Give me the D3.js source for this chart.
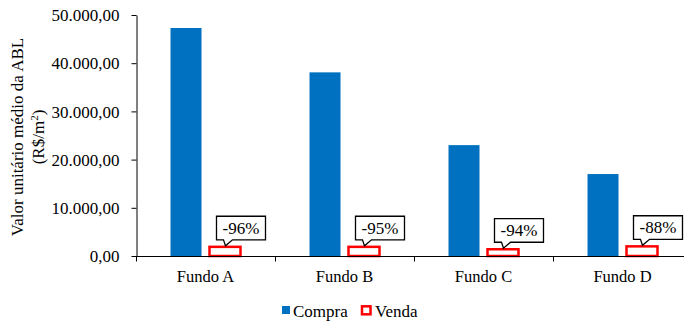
<!DOCTYPE html>
<html lang="pt-BR">
<head>
<meta charset="utf-8">
<script src="https://cdn.jsdelivr.net/npm/d3@7"></script>
</head>
<body style="margin:0;background:#fff">
<svg id="grafico" width="684" height="321" style="font-family: serif"></svg>
<script>
// valores do grafico
var fundos = ["Fundo A", "Fundo B", "Fundo C", "Fundo D"];
var series = ["Compra", "Venda"];
var compra = [47300, 38100, 23000, 17000];
var venda = [1900, 1900, 1400, 2000];
var variacao = ["-96%", "-95%", "-94%", "-88%"];
var yTicks = [0, 10000, 20000, 30000, 40000, 50000];

var cores = { Compra: "#0070C0", Venda: "#FF0000" };
var fonte = "serif";

var svg = d3.select("#grafico");

var x0 = d3.scaleBand().domain(fundos).range([136, 692]);
var x1 = d3.scaleBand().domain(series).range([0, x0.bandwidth()])
  .paddingInner(0.205).paddingOuter(0.885);
var y = d3.scaleLinear().domain([0, 50000]).range([256, 15]);

var fmt = function(v){
  return d3.format(",.2f")(v).replace(/,/g, "#").replace(".", ",").replace(/#/g, ".");
};

// eixo y
var gy = svg.append("g")
  .attr("transform", "translate(136.5,0)")
  .call(d3.axisLeft(y).tickValues(yTicks).tickFormat(fmt).tickSize(5).tickSizeOuter(0).tickPadding(12));
gy.attr("font-family", fonte).attr("font-size", 17);
gy.selectAll("text").attr("fill", "#000").attr("dy", "0.34em");
gy.selectAll("line, path").attr("stroke", "#000");

// titulo do eixo y
var titulo = svg.append("text")
  .attr("transform", "translate(23,137) rotate(-90)")
  .attr("text-anchor", "middle")
  .attr("font-family", fonte)
  .attr("font-size", 17);
titulo.append("tspan").attr("x", 0).attr("dy", 0).text("Valor unitário médio da ABL");
titulo.append("tspan").attr("x", 0).attr("dy", 21).text("(R$/m");
titulo.append("tspan").attr("dy", -6).attr("font-size", 11).text("2");
titulo.append("tspan").attr("dy", 6).text(")");

// barras
var grupos = svg.append("g").selectAll("g")
  .data(fundos).enter().append("g")
  .attr("transform", function(d){ return "translate(" + x0(d) + ",0)"; });

grupos.append("rect")
  .attr("x", x1("Compra"))
  .attr("y", function(d, i){ return y(compra[i]); })
  .attr("width", x1.bandwidth())
  .attr("height", function(d, i){ return y(0) - y(compra[i]); })
  .attr("fill", cores.Compra);

grupos.append("rect")
  .attr("x", x1("Venda"))
  .attr("y", function(d, i){ return y(venda[i]); })
  .attr("width", x1.bandwidth())
  .attr("height", function(d, i){ return y(0) - y(venda[i]); })
  .attr("fill", "#fff")
  .attr("stroke", cores.Venda)
  .attr("stroke-width", 2.5);

// eixo x
var gx = svg.append("g").attr("transform", "translate(0,256.5)");
gx.append("line").attr("x1", x0.range()[0]).attr("x2", x0.range()[1]).attr("stroke", "#000");
var limites = fundos.map(function(d){ return x0(d); }).concat([x0.range()[1]]);
gx.selectAll(".bt").data(limites).enter().append("line")
  .attr("x1", function(d){ return Math.round(d) + 0.5; })
  .attr("x2", function(d){ return Math.round(d) + 0.5; })
  .attr("y1", 0).attr("y2", 5)
  .attr("stroke", "#000");
gx.selectAll(".xl").data(fundos).enter().append("text")
  .attr("x", function(d){ return x0(d) + x0.bandwidth() / 2; })
  .attr("y", 25)
  .attr("text-anchor", "middle")
  .attr("font-family", fonte)
  .attr("font-size", 16.5)
  .text(function(d){ return d; });

// rotulos de variacao
var boxW = 49, boxH = 23.6;
var rotulos = grupos.append("g")
  .attr("transform", function(d, i){
    return "translate(" + (x1("Venda") + 7) + "," + (y(venda[i]) - 7 - boxH) + ")";
  });
rotulos.append("path")
  .attr("d", "M0,0 H" + boxW + " V" + boxH + " H16 L9," + (boxH + 6) + " L7," + boxH + " H0 Z")
  .attr("fill", "#fff")
  .attr("stroke", "#000")
  .attr("stroke-width", 1.3);
rotulos.append("text")
  .attr("x", boxW / 2)
  .attr("y", boxH - 6)
  .attr("text-anchor", "middle")
  .attr("font-family", fonte)
  .attr("font-size", 17)
  .text(function(d, i){ return variacao[i]; });

// legenda
var legenda = svg.append("g");
legenda.append("rect").attr("x", 282).attr("y", 306).attr("width", 8).attr("height", 8).attr("fill", cores.Compra);
legenda.append("rect").attr("x", 362).attr("y", 306.3).attr("width", 8.5).attr("height", 8)
  .attr("fill", "#fff").attr("stroke", cores.Venda).attr("stroke-width", 2.5);
legenda.selectAll("text").data(series).enter().append("text")
  .attr("x", function(d, i){ return i === 0 ? 293 : 375; })
  .attr("y", 316.5)
  .attr("font-family", fonte)
  .attr("font-size", 17)
  .text(function(d){ return d; });
</script>
</body>
</html>
